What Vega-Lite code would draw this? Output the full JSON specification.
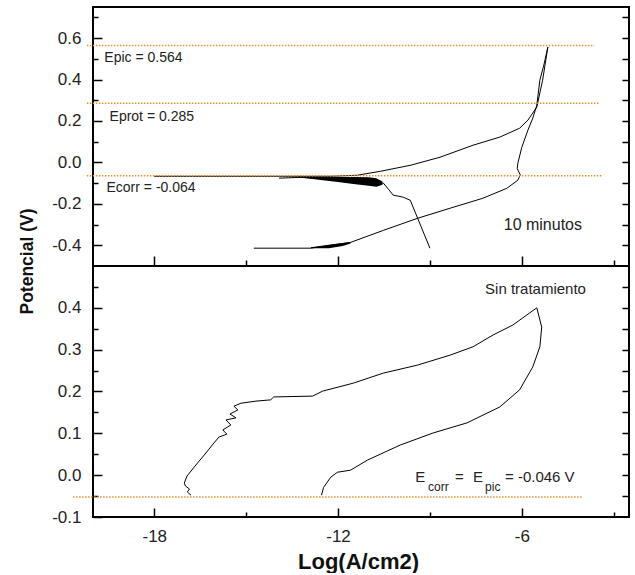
{
  "$schema": "https://vega.github.io/schema/vega-lite/v6.json",
  "padding": {"left": 17, "top": 6, "right": 0, "bottom": 0},
  "spacing": 0,
  "bounds": "flush",
  "config": {
    "view": {"stroke": "#000", "strokeWidth": 2},
    "font": "Liberation Sans",
    "axis": {"domain": false, "grid": false, "labelFont": "Liberation Sans", "labelFontSize": 17, "labelColor": "#222", "tickColor": "#000", "tickWidth": 1.5, "titleFont": "Liberation Sans", "titleFontSize": 20, "titleFontWeight": "bold", "titleColor": "#111"},
    "locale": {"number": {"decimal": ".", "thousands": ",", "grouping": [3], "currency": ["$", ""], "minus": "-"}}
  },
  "vconcat": [
    {
      "width": 536,
      "height": 259,
      "resolve": {"axis": {"x": "independent", "y": "independent"}},
      "layer": [
        {
          "data": {"values": [
            {"s": "A", "i": 0, "x": -14.75, "y": -0.414},
            {"s": "A", "i": 1, "x": -12.89, "y": -0.414},
            {"s": "A", "i": 2, "x": -11.59, "y": -0.386},
            {"s": "A", "i": 3, "x": -10.52, "y": -0.328},
            {"s": "A", "i": 4, "x": -9.41, "y": -0.27},
            {"s": "A", "i": 5, "x": -8.34, "y": -0.221},
            {"s": "A", "i": 6, "x": -7.27, "y": -0.173},
            {"s": "A", "i": 7, "x": -6.49, "y": -0.125},
            {"s": "A", "i": 8, "x": -6.13, "y": -0.086},
            {"s": "A", "i": 9, "x": -6.05, "y": -0.06},
            {"s": "A", "i": 10, "x": -6.15, "y": -0.03},
            {"s": "A", "i": 11, "x": -6.13, "y": -0.004},
            {"s": "A", "i": 12, "x": -6.0, "y": 0.073},
            {"s": "A", "i": 13, "x": -5.8, "y": 0.156},
            {"s": "A", "i": 14, "x": -5.64, "y": 0.214},
            {"s": "A", "i": 15, "x": -5.51, "y": 0.276},
            {"s": "A", "i": 16, "x": -5.41, "y": 0.397},
            {"s": "A", "i": 17, "x": -5.28, "y": 0.47},
            {"s": "A", "i": 18, "x": -5.15, "y": 0.556},
            {"s": "A", "i": 19, "x": -5.32, "y": 0.397},
            {"s": "A", "i": 20, "x": -5.51, "y": 0.267},
            {"s": "A", "i": 21, "x": -5.8, "y": 0.204},
            {"s": "A", "i": 22, "x": -6.07, "y": 0.165},
            {"s": "A", "i": 23, "x": -6.72, "y": 0.122},
            {"s": "A", "i": 24, "x": -7.59, "y": 0.083},
            {"s": "A", "i": 25, "x": -8.67, "y": 0.025},
            {"s": "A", "i": 26, "x": -9.64, "y": -0.014},
            {"s": "A", "i": 27, "x": -10.62, "y": -0.043},
            {"s": "A", "i": 28, "x": -11.37, "y": -0.062},
            {"s": "A", "i": 29, "x": -12.24, "y": -0.067},
            {"s": "A", "i": 30, "x": -18.0, "y": -0.067},
            {"s": "C", "i": 0, "x": -13.93, "y": -0.076},
            {"s": "C", "i": 1, "x": -13.2, "y": -0.072},
            {"s": "C", "i": 2, "x": -12.0, "y": -0.082},
            {"s": "C", "i": 3, "x": -10.7, "y": -0.1},
            {"s": "C", "i": 4, "x": -10.52, "y": -0.1},
            {"s": "C", "i": 5, "x": -10.35, "y": -0.13},
            {"s": "C", "i": 6, "x": -10.2, "y": -0.158},
            {"s": "C", "i": 7, "x": -9.87, "y": -0.168},
            {"s": "C", "i": 8, "x": -9.64, "y": -0.183},
            {"s": "C", "i": 9, "x": -9.0, "y": -0.414}
          ]},
          "mark": {"type": "line", "color": "#000", "strokeWidth": 1, "clip": false},
          "encoding": {
            "x": {"field": "x", "type": "quantitative", "scale": {"domain": [-20, -2.5], "nice": false, "zero": false},
              "axis": {"orient": "bottom", "values": [-18, -12, -6], "labels": false, "tickSize": -10, "title": null}},
            "y": {"field": "y", "type": "quantitative", "scale": {"domain": [-0.5, 0.75], "nice": false, "zero": false},
              "axis": {"orient": "left", "values": [-0.4, -0.2, 0, 0.2, 0.4, 0.6], "format": ".1f", "tickSize": -9, "labelPadding": 21, "title": "Potencial (V)", "titleFontSize": 17.5, "titleY": 254, "titleX": -61, "titleBaseline": "alphabetic", "titleAngle": -90}},
            "detail": {"field": "s"},
            "order": {"field": "i"}
          }
        },
        {
          "data": {"values": [
            {"x": -13.3, "top": -0.069, "bot": -0.073},
            {"x": -12.9, "top": -0.069, "bot": -0.079},
            {"x": -12.5, "top": -0.07, "bot": -0.086},
            {"x": -12.0, "top": -0.07, "bot": -0.094},
            {"x": -11.5, "top": -0.071, "bot": -0.104},
            {"x": -11.0, "top": -0.072, "bot": -0.113},
            {"x": -10.75, "top": -0.076, "bot": -0.118},
            {"x": -10.55, "top": -0.092, "bot": -0.108},
            {"x": -12.89, "top": -0.409, "bot": -0.414, "g": "w"},
            {"x": -12.3, "top": -0.398, "bot": -0.414, "g": "w"},
            {"x": -11.85, "top": -0.389, "bot": -0.404, "g": "w"},
            {"x": -11.59, "top": -0.385, "bot": -0.392, "g": "w"}
          ]},
          "mark": {"type": "area", "color": "#000", "opacity": 1, "clip": false},
          "encoding": {
            "x": {"field": "x", "type": "quantitative", "scale": {"domain": [-20, -2.5], "nice": false, "zero": false}, "axis": null},
            "y": {"field": "top", "type": "quantitative", "scale": {"domain": [-0.5, 0.75], "nice": false, "zero": false}, "axis": null},
            "y2": {"field": "bot"},
            "detail": {"field": "g"}
          }
        },
        {
          "data": {"values": [
            {"y": 0.564, "x1": -20.2, "x2": -3.63},
            {"y": 0.285, "x1": -20.2, "x2": -3.46},
            {"y": -0.064, "x1": -20.2, "x2": -3.37}
          ]},
          "mark": {"type": "rule", "color": "#E0922F", "strokeWidth": 1.5, "strokeDash": [1.5, 1.5], "clip": false},
          "encoding": {
            "x": {"field": "x1", "type": "quantitative", "scale": {"domain": [-20, -2.5], "nice": false, "zero": false},
              "axis": {"orient": "bottom", "values": [-15, -9, -3], "labels": false, "tickSize": -6, "title": null}},
            "x2": {"field": "x2"},
            "y": {"field": "y", "type": "quantitative", "scale": {"domain": [-0.5, 0.75], "nice": false, "zero": false},
              "axis": {"orient": "left", "values": [-0.3, -0.1, 0.1, 0.3, 0.5, 0.7], "labels": false, "tickSize": -5, "title": null}}
          }
        },
        {
          "data": {"values": [
            {"t": "Epic = 0.564", "x": -19.63, "y": 0.503},
            {"t": "Eprot = 0.285", "x": -19.46, "y": 0.218},
            {"t": "Ecorr = -0.064", "x": -19.56, "y": -0.125}
          ]},
          "mark": {"type": "text", "align": "left", "baseline": "middle", "fontSize": 14, "color": "#222", "font": "Liberation Sans"},
          "encoding": {
            "x": {"field": "x", "type": "quantitative", "scale": {"domain": [-20, -2.5], "nice": false, "zero": false}, "axis": null},
            "y": {"field": "y", "type": "quantitative", "scale": {"domain": [-0.5, 0.75], "nice": false, "zero": false},
              "axis": {"orient": "right", "values": [-0.4, -0.3, -0.2, -0.1, 0, 0.1, 0.2, 0.3, 0.4, 0.5, 0.6, 0.7], "labels": false, "tickSize": -7, "title": null}},
            "text": {"field": "t"}
          }
        },
        {
          "data": {"values": [
            {"t": "10 minutos", "x": -6.59, "y": -0.303}
          ]},
          "mark": {"type": "text", "align": "left", "baseline": "middle", "fontSize": 16, "color": "#222", "font": "Liberation Sans"},
          "encoding": {
            "x": {"field": "x", "type": "quantitative", "scale": {"domain": [-20, -2.5], "nice": false, "zero": false}, "axis": null},
            "y": {"field": "y", "type": "quantitative", "scale": {"domain": [-0.5, 0.75], "nice": false, "zero": false}, "axis": null},
            "text": {"field": "t"}
          }
        }
      ]
    },
    {
      "width": 536,
      "height": 251,
      "resolve": {"axis": {"x": "independent", "y": "independent"}},
      "layer": [
        {
          "data": {"values": [
            {"i": 0, "x": -16.8, "y": -0.048},
            {"i": 1, "x": -16.92, "y": -0.04},
            {"i": 2, "x": -16.85, "y": -0.033},
            {"i": 3, "x": -16.98, "y": -0.026},
            {"i": 4, "x": -17.02, "y": -0.019},
            {"i": 5, "x": -16.93, "y": -0.002},
            {"i": 6, "x": -16.7, "y": 0.019},
            {"i": 7, "x": -16.37, "y": 0.048},
            {"i": 8, "x": -16.05, "y": 0.077},
            {"i": 9, "x": -15.89, "y": 0.091},
            {"i": 10, "x": -15.63, "y": 0.098},
            {"i": 11, "x": -15.76, "y": 0.108},
            {"i": 12, "x": -15.5, "y": 0.12},
            {"i": 13, "x": -15.66, "y": 0.132},
            {"i": 14, "x": -15.33, "y": 0.137},
            {"i": 15, "x": -15.53, "y": 0.146},
            {"i": 16, "x": -15.27, "y": 0.156},
            {"i": 17, "x": -15.4, "y": 0.165},
            {"i": 18, "x": -15.17, "y": 0.172},
            {"i": 19, "x": -14.68, "y": 0.177},
            {"i": 20, "x": -14.2, "y": 0.18},
            {"i": 21, "x": -14.1, "y": 0.187},
            {"i": 22, "x": -12.83, "y": 0.189},
            {"i": 23, "x": -12.5, "y": 0.201},
            {"i": 24, "x": -11.5, "y": 0.22},
            {"i": 25, "x": -10.52, "y": 0.244},
            {"i": 26, "x": -9.41, "y": 0.263},
            {"i": 27, "x": -8.34, "y": 0.287},
            {"i": 28, "x": -7.59, "y": 0.307},
            {"i": 29, "x": -6.94, "y": 0.335},
            {"i": 30, "x": -6.29, "y": 0.359},
            {"i": 31, "x": -5.74, "y": 0.388},
            {"i": 32, "x": -5.51, "y": 0.4},
            {"i": 33, "x": -5.35, "y": 0.354},
            {"i": 34, "x": -5.41, "y": 0.307},
            {"i": 35, "x": -5.64, "y": 0.259},
            {"i": 36, "x": -6.07, "y": 0.204},
            {"i": 37, "x": -6.72, "y": 0.163},
            {"i": 38, "x": -7.79, "y": 0.125},
            {"i": 39, "x": -8.89, "y": 0.101},
            {"i": 40, "x": -9.97, "y": 0.072},
            {"i": 41, "x": -11.04, "y": 0.036},
            {"i": 42, "x": -11.59, "y": 0.012},
            {"i": 43, "x": -12.02, "y": 0.007},
            {"i": 44, "x": -12.24, "y": -0.005},
            {"i": 45, "x": -12.47, "y": -0.029},
            {"i": 46, "x": -12.54, "y": -0.048}
          ]},
          "mark": {"type": "line", "color": "#000", "strokeWidth": 1, "clip": false},
          "encoding": {
            "x": {"field": "x", "type": "quantitative", "scale": {"domain": [-20, -2.5], "nice": false, "zero": false},
              "axis": {"orient": "bottom", "values": [-18, -12, -6], "format": "d", "tickSize": -9, "labelPadding": 20, "title": "Log(A/cm2)", "titleFontSize": 22, "titleY": 51, "titleX": 265, "titleBaseline": "alphabetic"}},
            "y": {"field": "y", "type": "quantitative", "scale": {"domain": [-0.1, 0.5], "nice": false, "zero": false},
              "axis": {"orient": "left", "values": [-0.1, 0, 0.1, 0.2, 0.3, 0.4], "format": ".1f", "tickSize": -9, "labelPadding": 21, "title": null}},
            "order": {"field": "i"}
          }
        },
        {
          "data": {"values": [
            {"y": -0.052, "x1": -20.65, "x2": -4.0}
          ]},
          "mark": {"type": "rule", "color": "#E0922F", "strokeWidth": 1.5, "strokeDash": [1.5, 1.5], "clip": false},
          "encoding": {
            "x": {"field": "x1", "type": "quantitative", "scale": {"domain": [-20, -2.5], "nice": false, "zero": false},
              "axis": {"orient": "bottom", "values": [-15, -9, -3], "labels": false, "tickSize": -5, "title": null}},
            "x2": {"field": "x2"},
            "y": {"field": "y", "type": "quantitative", "scale": {"domain": [-0.1, 0.5], "nice": false, "zero": false},
              "axis": {"orient": "left", "values": [-0.05, 0.05, 0.15, 0.25, 0.35, 0.45], "labels": false, "tickSize": -5, "title": null}}
          }
        },
        {
          "data": {"values": [
            {"t": "Sin tratamiento", "x": -7.2, "y": 0.4455},
            {"t": "E", "x": -9.48, "y": -0.005},
            {"t": "=", "x": -8.18, "y": -0.005},
            {"t": "E", "x": -7.59, "y": -0.005},
            {"t": "= -0.046 V", "x": -6.55, "y": -0.005}
          ]},
          "mark": {"type": "text", "align": "left", "baseline": "middle", "fontSize": 15, "color": "#222", "font": "Liberation Sans"},
          "encoding": {
            "x": {"field": "x", "type": "quantitative", "scale": {"domain": [-20, -2.5], "nice": false, "zero": false}, "axis": null},
            "y": {"field": "y", "type": "quantitative", "scale": {"domain": [-0.1, 0.5], "nice": false, "zero": false},
              "axis": {"orient": "right", "values": [-0.05, 0, 0.05, 0.1, 0.15, 0.2, 0.25, 0.3, 0.35, 0.4, 0.45], "labels": false, "tickSize": -7, "title": null}},
            "text": {"field": "t"}
          }
        },
        {
          "data": {"values": [
            {"t": "corr", "x": -9.06, "y": -0.029},
            {"t": "pic", "x": -7.2, "y": -0.029}
          ]},
          "mark": {"type": "text", "align": "left", "baseline": "middle", "fontSize": 12, "color": "#222", "font": "Liberation Sans"},
          "encoding": {
            "x": {"field": "x", "type": "quantitative", "scale": {"domain": [-20, -2.5], "nice": false, "zero": false}, "axis": null},
            "y": {"field": "y", "type": "quantitative", "scale": {"domain": [-0.1, 0.5], "nice": false, "zero": false}, "axis": null},
            "text": {"field": "t"}
          }
        }
      ]
    }
  ]
}
